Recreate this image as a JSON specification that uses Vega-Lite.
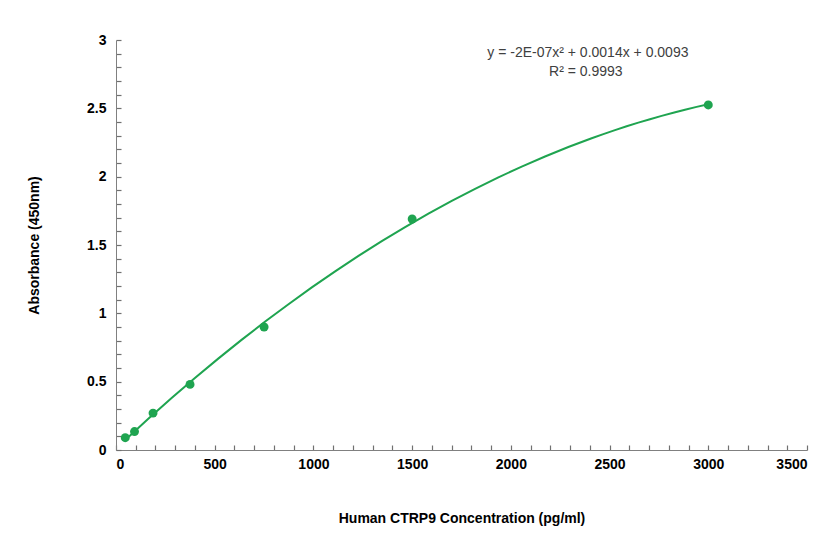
{
  "$schema": "https://vega.github.io/schema/vega-lite/v6.json",
  "width": 691,
  "height": 410,
  "autosize": {"type": "none"},
  "padding": {"left": 116, "top": 40, "right": 25, "bottom": 90},
  "background": "white",
  "config": {"view": {"stroke": null}, "font": "Liberation Sans"},
  "datasets": {
    "pts": [
      {"conc": 46.875, "abs": 0.09},
      {"conc": 93.75, "abs": 0.135},
      {"conc": 187.5, "abs": 0.27},
      {"conc": 375, "abs": 0.48},
      {"conc": 750, "abs": 0.9},
      {"conc": 1500, "abs": 1.69},
      {"conc": 3000, "abs": 2.525}
    ],
    "ann": [
      {"conc": 2390, "abs": 2.905, "label": "y = -2E-07x² + 0.0014x + 0.0093"},
      {"conc": 2380, "abs": 2.765, "label": "R² = 0.9993"}
    ]
  },
  "encoding": {
    "x": {
      "field": "conc", "type": "quantitative",
      "scale": {"domain": [0, 3500], "nice": false},
      "axis": {
        "title": "Human CTRP9 Concentration (pg/ml)",
        "values": [0,100,200,300,400,500,600,700,800,900,1000,1100,1200,1300,1400,1500,1600,1700,1800,1900,2000,2100,2200,2300,2400,2500,2600,2700,2800,2900,3000,3100,3200,3300,3400,3500],
        "labelExpr": "datum.value % 500 == 0 ? format(datum.value, '~g') : ''",
        "grid": false,
        "domainColor": "#808080",
        "tickColor": "#707070",
        "tickWidth": 1.2,
        "tickSize": -5,
        "labelPadding": 12,
        "labelFont": "Liberation Sans",
        "labelFontWeight": "bold",
        "labelFontSize": 14,
        "labelColor": "#000000",
        "titleFont": "Liberation Sans",
        "titleFontWeight": "bold",
        "titleFontSize": 14,
        "titleColor": "#000000",
        "titlePadding": 40
      }
    },
    "y": {
      "field": "abs", "type": "quantitative",
      "scale": {"domain": [0, 3], "nice": false},
      "axis": {
        "title": "Absorbance (450nm)",
        "values": [0,0.1,0.2,0.3,0.4,0.5,0.6,0.7,0.8,0.9,1,1.1,1.2,1.3,1.4,1.5,1.6,1.7,1.8,1.9,2,2.1,2.2,2.3,2.4,2.5,2.6,2.7,2.8,2.9,3],
        "labelExpr": "abs(datum.value*2 - round(datum.value*2)) < 0.000001 ? format(datum.value, '~g') : ''",
        "grid": false,
        "domainColor": "#808080",
        "tickColor": "#707070",
        "tickWidth": 1.2,
        "tickSize": -5,
        "labelPadding": 15,
        "labelFont": "Liberation Sans",
        "labelFontWeight": "bold",
        "labelFontSize": 14,
        "labelColor": "#000000",
        "titleFont": "Liberation Sans",
        "titleFontWeight": "bold",
        "titleFontSize": 14,
        "titleColor": "#000000",
        "titlePadding": 45
      }
    }
  },
  "layer": [
    {
      "data": {"name": "pts"},
      "transform": [
        {"regression": "abs", "on": "conc", "method": "poly", "order": 2, "extent": [46.875, 3000]}
      ],
      "mark": {"type": "line", "color": "#1fa450", "strokeWidth": 2}
    },
    {
      "data": {"name": "pts"},
      "mark": {"type": "point", "filled": true, "opacity": 1, "size": 80, "color": "#1fa450"}
    },
    {
      "data": {"name": "ann"},
      "mark": {"type": "text", "font": "Liberation Sans", "fontSize": 14, "color": "#404040", "align": "center", "baseline": "middle"},
      "encoding": {"text": {"field": "label"}}
    }
  ]
}
